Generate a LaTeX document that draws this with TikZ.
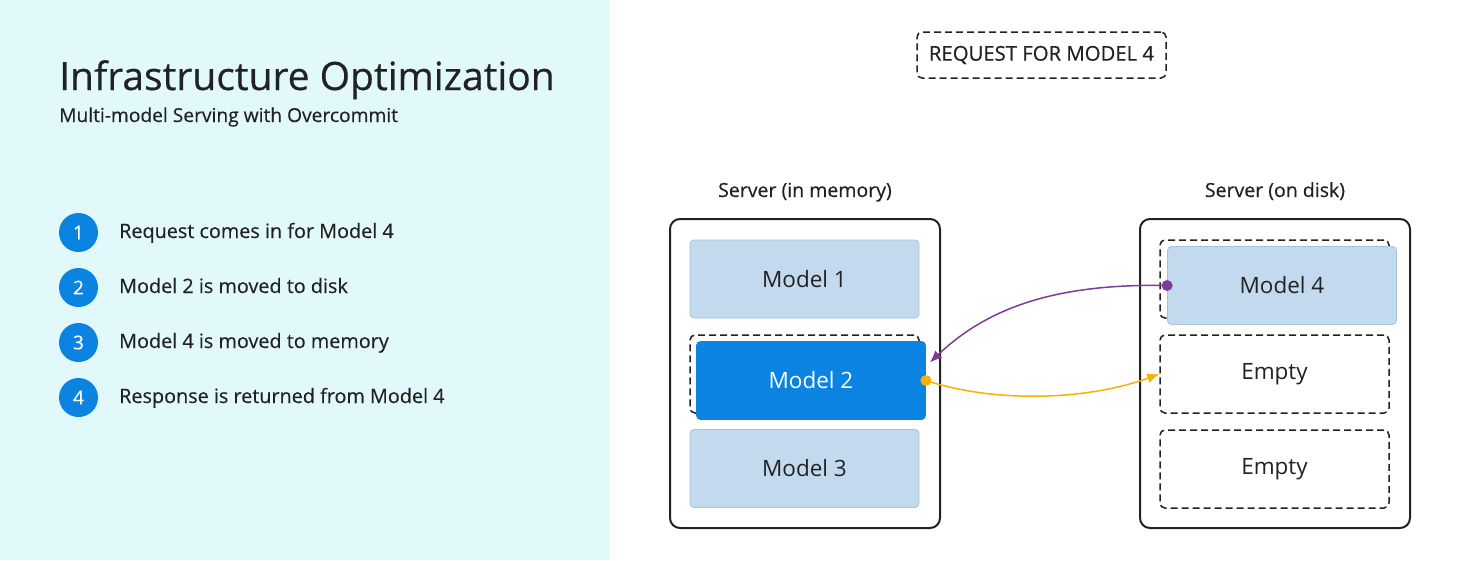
\documentclass[tikz,border=0pt]{standalone}
\usepackage{fontspec}
\setmainfont{Open Sans}
\newfontfamily\mediumfont{Open Sans}[FakeBold=0.4]
\usetikzlibrary{calc,arrows.meta}
\definecolor{panelbg}{HTML}{E1F9FB}
\definecolor{stepblue}{HTML}{0A84E0}
\definecolor{modelfill}{HTML}{C2D9EE}
\definecolor{modeledge}{HTML}{A8C3DC}
\definecolor{inkdark}{HTML}{222222}
\definecolor{movepurple}{HTML}{7D3C98}
\definecolor{moveyellow}{HTML}{F5B301}
\tikzset{
  server/.style={rectangle, rounded corners=10pt, minimum width=270pt, minimum height=309pt, draw=inkdark, line width=2pt},
  model/.style={rectangle, rounded corners=4pt, minimum width=229pt, minimum height=78pt, fill=modelfill, draw=modeledge, line width=0.8pt, text=inkdark, font=\fontsize{22.5}{26}\selectfont},
  slot/.style={rectangle, rounded corners=5pt, minimum width=229pt, minimum height=78pt, draw=inkdark, line width=1.5pt, dash pattern=on 7pt off 4pt, text=inkdark, font=\fontsize{22.5}{26}\selectfont},
  stepnum/.style={circle, fill=stepblue, minimum size=39pt, inner sep=0pt, text=white, font=\mediumfont\fontsize{19}{22}\selectfont},
  steptext/.style={anchor=base west, inner sep=0pt, text=inkdark, font=\mediumfont\fontsize{19.8}{22}\selectfont},
  label/.style={anchor=base, text=inkdark, font=\mediumfont\fontsize{19.5}{22}\selectfont},
  move/.style={line width=1.5pt, -{Latex[length=12pt,width=10pt]}},
}
\begin{document}
\begin{tikzpicture}[x=1pt,y=-1pt]
\useasboundingbox (0,0) rectangle (1460,560);
\fill[white] (0,0) rectangle (1460,560);
\fill[panelbg] (0,0) rectangle (610,560);
% title
\node[anchor=base west, inner sep=0pt, text=inkdark, font=\mediumfont\fontsize{39}{44}\selectfont] (title) at (59,90) {Infrastructure Optimization};
\node[anchor=base west, inner sep=0pt, text=inkdark, font=\mediumfont\fontsize{19.2}{22}\selectfont] (subtitle) at (59,122) {Multi-model Serving with Overcommit};
% steps
\foreach \n/\txt in {1/Request comes in for Model 4, 2/Model 2 is moved to disk, 3/Model 4 is moved to memory, 4/Response is returned from Model 4} {
  \node[stepnum] (num\n) at (78.5,177.5+55*\n) {\n};
  \node[steptext] (step\n) at (119,183+55*\n) {\txt};
}
% request
\node[rectangle, rounded corners=5pt, minimum width=249pt, minimum height=46pt, draw=inkdark, line width=1.5pt, dash pattern=on 7pt off 4pt, text=inkdark, font=\mediumfont\fontsize{20.3}{22}\selectfont] (request) at (1041.5,55) {REQUEST FOR MODEL 4};
% servers
\node[label] (memlabel) at (805,197) {Server (in memory)};
\node[label] (disklabel) at (1275,197) {Server (on disk)};
\node[server] (mem) at (805,373.5) {};
\node[server] (disk) at (1275,373.5) {};
% memory
\node[model] (m1) at (804.5,279) {Model 1};
\node[slot] (s2) at (804.5,374) {};
\node[model, fill=stepblue, draw=stepblue, text=white] (m2) at (811,380.5) {Model 2};
\node[model] (m3) at (804.5,468.5) {Model 3};
% disk
\node[slot] (s4) at (1274.5,279) {};
\node[model] (m4) at (1282,285.5) {Model 4};
\node[slot] (e1) at (1274.5,374) {Empty};
\node[slot] (e2) at (1274.5,469) {Empty};
% moves
\draw[move, movepurple] (m4.west) .. controls +(-107,-2) and +(60,-57) .. ($(m2.east)+(4,-18)$);
\fill[movepurple] (m4.west) circle (5.5pt);
\draw[move, moveyellow] (m2.east) .. controls +(74,24) and +(-68,25) .. (e1.west);
\fill[moveyellow] (m2.east) circle (5.5pt);
\end{tikzpicture}
\end{document}
